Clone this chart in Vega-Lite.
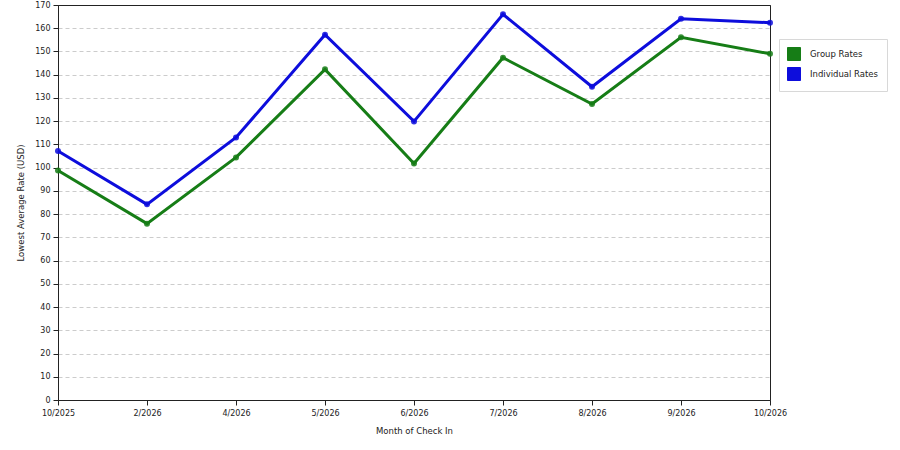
{
  "$schema": "https://vega.github.io/schema/vega-lite/v6.json",
  "width": 712,
  "height": 395,
  "autosize": {"type": "none"},
  "padding": {"left": 58, "top": 5, "right": 130, "bottom": 50},
  "background": "white",
  "config": {
    "font": "DejaVu Sans",
    "view": {"stroke": "#222", "strokeWidth": 1},
    "axis": {
      "labelFont": "DejaVu Sans",
      "labelFontSize": 8,
      "labelColor": "#222",
      "titleFont": "DejaVu Sans",
      "titleFontSize": 8.5,
      "titleFontWeight": "normal",
      "titleColor": "#222",
      "domainColor": "#222",
      "tickColor": "#222",
      "tickSize": 5
    }
  },
  "data": {
    "values": [
      {"month": "10/2025", "series": "Group Rates", "rate": 98.8},
      {"month": "2/2026", "series": "Group Rates", "rate": 75.9},
      {"month": "4/2026", "series": "Group Rates", "rate": 104.4},
      {"month": "5/2026", "series": "Group Rates", "rate": 142.3},
      {"month": "6/2026", "series": "Group Rates", "rate": 101.8},
      {"month": "7/2026", "series": "Group Rates", "rate": 147.3},
      {"month": "8/2026", "series": "Group Rates", "rate": 127.4},
      {"month": "9/2026", "series": "Group Rates", "rate": 156.1},
      {"month": "10/2026", "series": "Group Rates", "rate": 149.0},
      {"month": "10/2025", "series": "Individual Rates", "rate": 107.2},
      {"month": "2/2026", "series": "Individual Rates", "rate": 84.2},
      {"month": "4/2026", "series": "Individual Rates", "rate": 113.0},
      {"month": "5/2026", "series": "Individual Rates", "rate": 157.2},
      {"month": "6/2026", "series": "Individual Rates", "rate": 119.9},
      {"month": "7/2026", "series": "Individual Rates", "rate": 166.0},
      {"month": "8/2026", "series": "Individual Rates", "rate": 134.8},
      {"month": "9/2026", "series": "Individual Rates", "rate": 164.1},
      {"month": "10/2026", "series": "Individual Rates", "rate": 162.4}
    ]
  },
  "encoding": {
    "x": {
      "field": "month",
      "type": "ordinal",
      "sort": null,
      "scale": {"type": "point", "padding": 0},
      "axis": {
        "title": "Month of Check In",
        "labelAngle": 0,
        "labelPadding": 4,
        "titlePadding": 9,
        "grid": false
      }
    },
    "y": {
      "field": "rate",
      "type": "quantitative",
      "scale": {"domain": [0, 170], "nice": false},
      "axis": {
        "title": "Lowest Average Rate (USD)",
        "values": [0, 10, 20, 30, 40, 50, 60, 70, 80, 90, 100, 110, 120, 130, 140, 150, 160, 170],
        "labelPadding": 3,
        "titlePadding": 9,
        "grid": true,
        "gridColor": {"condition": {"test": "datum.value === 170", "value": "#222"}, "value": "#cccccc"},
        "gridDash": {"condition": {"test": "datum.value === 170", "value": []}, "value": [4, 3]},
        "gridWidth": 1
      }
    },
    "color": {
      "field": "series",
      "type": "nominal",
      "scale": {"domain": ["Group Rates", "Individual Rates"], "range": ["#167d16", "#0d0ddc"]},
      "legend": {
        "title": null,
        "orient": "none",
        "legendX": 721,
        "legendY": 34,
        "symbolType": "square",
        "symbolSize": 169,
        "symbolStrokeColor": "#333",
        "symbolStrokeWidth": 1,
        "labelFont": "DejaVu Sans",
        "labelFontSize": 8.5,
        "labelColor": "#222",
        "labelOffset": 9,
        "rowPadding": 2,
        "padding": 8,
        "fillColor": "white",
        "strokeColor": "#d8d8d8",
        "encode": {
          "symbols": {
            "update": {
              "fill": {"scale": "color", "field": "value"},
              "fillOpacity": {"value": 1},
              "opacity": {"value": 1},
              "stroke": {"value": "#333"},
              "strokeWidth": {"value": 1}
            }
          }
        }
      }
    }
  },
  "layer": [
    {
      "mark": {"type": "line", "strokeWidth": 3}
    },
    {
      "mark": {"type": "point", "filled": true, "size": 36, "opacity": 0.85}
    }
  ]
}
